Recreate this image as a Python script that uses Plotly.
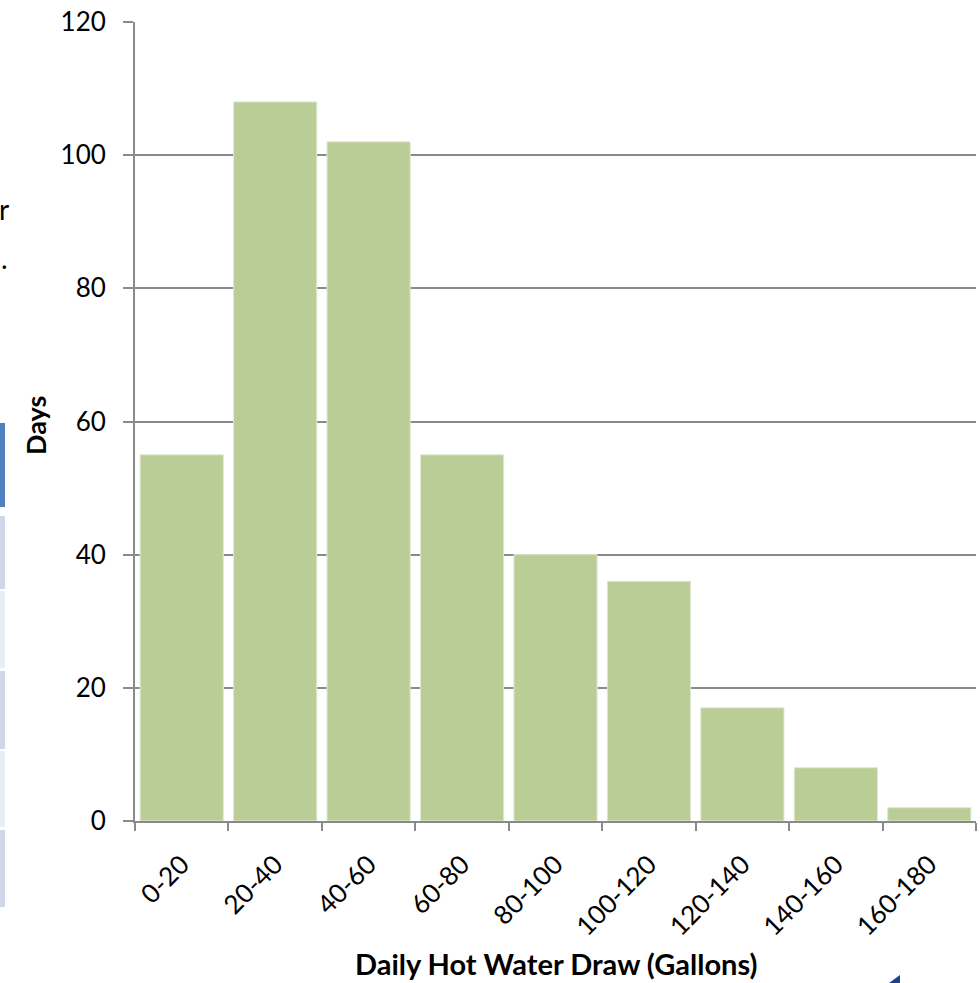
import plotly.graph_objects as go

# Histogram of daily hot water draw
bins = ["0-20", "20-40", "40-60", "60-80", "80-100", "100-120",
        "120-140", "140-160", "160-180"]
days = [55, 108, 102, 55, 40, 36, 17, 8, 2]
y_ticks = [0, 20, 40, 60, 80, 100, 120]

W, H = 980, 983
L, R, T, B = 135, 4, 22, 162
PW, PH = W - L - R, H - T - B


def px(x):
    return (x - L) / PW


def py(y):
    return (H - B - y) / PH


FONT = "Lato"
GRID = "#8a8a8a"
BAR = "#bacd97"

fig = go.Figure(go.Bar(
    x=bins, y=days,
    marker=dict(color=BAR, line=dict(color="#dfe9cf", width=1)),
    width=0.89,
))

shapes = []
# fragment of a neighbouring table at the left edge
cells = [(423, 507, "#4f81bd"), (516, 589, "#d0d8e8"), (591, 668, "#e9edf4"),
         (671, 749, "#d0d8e8"), (751, 827, "#e9edf4"), (830, 907, "#d0d8e8")]
for y0, y1, c in cells:
    shapes.append(dict(type="rect", xref="paper", yref="paper",
                       x0=px(0), x1=px(5), y0=py(y1), y1=py(y0),
                       fillcolor=c, line=dict(width=0), layer="above"))
# small arrow corner at the bottom
shapes.append(dict(type="path", xref="paper", yref="paper",
                   path=f"M {px(889)} {py(983)} L {px(900)} {py(975)} L {px(900)} {py(983)} Z",
                   fillcolor="#1f3f8f", line=dict(width=0)))

annotations = [
    dict(text="<b>Daily Hot Water Draw (Gallons)</b>", xref="paper", yref="paper",
         x=px(556), y=py(964), showarrow=False, xanchor="center", yanchor="middle",
         font=dict(family=FONT, size=29, color="black")),
    dict(text="<b>Days</b>", xref="paper", yref="paper", textangle=-90,
         x=px(35), y=py(426), showarrow=False, xanchor="center", yanchor="middle",
         font=dict(family=FONT, size=27, color="black")),
    dict(text="r", xref="paper", yref="paper", x=px(-3), y=py(209),
         showarrow=False, xanchor="left", yanchor="middle",
         font=dict(family=FONT, size=28, color="black")),
    dict(text=".", xref="paper", yref="paper", x=px(-1), y=py(258),
         showarrow=False, xanchor="left", yanchor="middle",
         font=dict(family=FONT, size=28, color="black")),
]

fig.update_layout(
    width=W, height=H, autosize=False,
    margin=dict(l=L, r=R, t=T, b=B),
    paper_bgcolor="white", plot_bgcolor="white",
    showlegend=False, bargap=0.11,
    font=dict(family=FONT, size=26, color="black"),
    shapes=shapes, annotations=annotations,
)
fig.update_xaxes(
    type="category", tickangle=-45, tickson="boundaries",
    ticks="outside", ticklen=8, tickwidth=1.5, tickcolor=GRID,
    showline=True, linecolor=GRID, linewidth=2, showgrid=False,
    tickfont=dict(family=FONT, size=26, color="black"),
    ticklabelstandoff=16,
    automargin=False,
)
fig.update_yaxes(
    range=[0, 120], tickvals=y_ticks,
    ticks="outside", ticklen=10, tickwidth=1.5, tickcolor=GRID,
    showline=True, linecolor=GRID, linewidth=2,
    showgrid=True, gridcolor=GRID, gridwidth=1.5, zeroline=False,
    tickfont=dict(family=FONT, size=26, color="black"),
    ticklabelstandoff=12,
    automargin=False,
)

fig.write_html("out.html")
